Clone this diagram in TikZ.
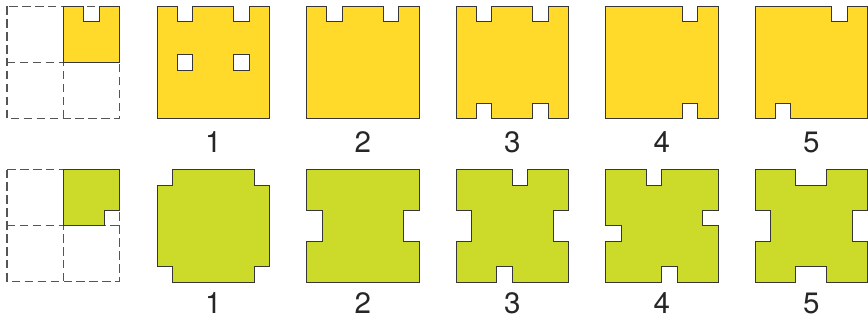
\documentclass[tikz,border=0pt]{standalone}
\usepackage{fontspec}
\setsansfont{TeX Gyre Heros}
\usepackage{tikz}
\usepackage[dvipsnames, svgnames, table]{xcolor}

\definecolor{piecegold}{RGB}{255,218,42}
\definecolor{piecelime}{RGB}{204,219,42}
\definecolor{edgegray}{RGB}{55,55,55}

\tikzset{
  goldpiece/.style={draw=edgegray, fill=piecegold, line width=0.7pt, line join=miter},
  limepiece/.style={draw=edgegray, fill=piecelime, line width=0.7pt, line join=miter},
  gridline/.style={draw=edgegray!85, dash pattern=on 6pt off 3.2pt, line width=0.8pt},
  numlabel/.style={font=\sffamily\fontsize{21}{21}\selectfont, text=black!85}
}

\begin{document}
\begin{tikzpicture}[x=0.25mm, y=-0.25mm]
    \useasboundingbox (0,0) rectangle (868,321);

    % Top row: quarter in the dashed grid
    \draw[gridline] (7,6.3) rectangle (119.6,118.9);
    \draw[gridline] (63.3,6.3) -- (63.3,118.9);
    \draw[gridline] (7,62.6) -- (119.6,62.6);
    \draw[goldpiece] (63.3,6.3) -- (83.65,6.3) -- (83.65,21.9) -- (99.25,21.9) -- (99.25,6.3) -- (119.6,6.3) -- (119.6,62.6) -- (63.3,62.6) -- cycle;

    % Yellow 1
    \begin{scope}[shift={(157,6.3)}]
        \draw[goldpiece] (0,0) -- (20.35,0) -- (20.35,15.6) -- (35.95,15.6) -- (35.95,0) -- (76.65,0) -- (76.65,15.6) -- (92.25,15.6) -- (92.25,0) -- (112.6,0) -- (112.6,112.6) -- (0,112.6) -- cycle;
        \draw[goldpiece, fill=white] (20.35,48.5) rectangle (35.95,64.1);
        \draw[goldpiece, fill=white] (76.65,48.5) rectangle (92.25,64.1);
    \end{scope}

    % Yellow 2
    \begin{scope}[shift={(306.5,6.3)}]
        \draw[goldpiece] (0,0) -- (20.35,0) -- (20.35,15.6) -- (35.95,15.6) -- (35.95,0) -- (76.65,0) -- (76.65,15.6) -- (92.25,15.6) -- (92.25,0) -- (112.6,0) -- (112.6,112.6) -- (0,112.6) -- cycle;
    \end{scope}

    % Yellow 3
    \begin{scope}[shift={(456,6.3)}]
        \draw[goldpiece] (0,0) -- (20.35,0) -- (20.35,15.6) -- (35.95,15.6) -- (35.95,0) -- (76.65,0) -- (76.65,15.6) -- (92.25,15.6) -- (92.25,0) -- (112.6,0) -- (112.6,112.6) -- (92.25,112.6) -- (92.25,97) -- (76.65,97) -- (76.65,112.6) -- (35.95,112.6) -- (35.95,97) -- (20.35,97) -- (20.35,112.6) -- (0,112.6) -- cycle;
    \end{scope}

    % Yellow 4
    \begin{scope}[shift={(605.5,6.3)}]
        \draw[goldpiece] (0,0) -- (76.65,0) -- (76.65,15.6) -- (92.25,15.6) -- (92.25,0) -- (112.6,0) -- (112.6,112.6) -- (92.25,112.6) -- (92.25,97) -- (76.65,97) -- (76.65,112.6) -- (0,112.6) -- cycle;
    \end{scope}

    % Yellow 5
    \begin{scope}[shift={(755,6.3)}]
        \draw[goldpiece] (0,0) -- (76.65,0) -- (76.65,15.6) -- (92.25,15.6) -- (92.25,0) -- (112.6,0) -- (112.6,112.6) -- (35.95,112.6) -- (35.95,97) -- (20.35,97) -- (20.35,112.6) -- (0,112.6) -- cycle;
    \end{scope}

    % Top labels
    \node[numlabel] (top1) at (213.3,142.5) {1};
    \node[numlabel] (top2) at (362.8,142.5) {2};
    \node[numlabel] (top3) at (512.3,142.5) {3};
    \node[numlabel] (top4) at (661.8,142.5) {4};
    \node[numlabel] (top5) at (811.3,142.5) {5};

    % Bottom row: quarter in the dashed grid
    \draw[gridline] (7,169.5) rectangle (119.6,281.1);
    \draw[gridline] (63.3,169.5) -- (63.3,281.1);
    \draw[gridline] (7,225.8) -- (119.6,225.8);
    \draw[limepiece] (63.3,169.5) -- (119.6,169.5) -- (119.6,210.2) -- (104,210.2) -- (104,225.8) -- (63.3,225.8) -- cycle;

    % Green 1
    \begin{scope}[shift={(157,169.6)}]
        \draw[limepiece] (15.6,0) -- (97,0) -- (97,15.6) -- (112.6,15.6) -- (112.6,97) -- (97,97) -- (97,112.6) -- (15.6,112.6) -- (15.6,97) -- (0,97) -- (0,15.6) -- (15.6,15.6) -- cycle;
    \end{scope}

    % Green 2
    \begin{scope}[shift={(306.5,169.6)}]
        \draw[limepiece] (0,0) -- (112.6,0) -- (112.6,40.7) -- (97,40.7) -- (97,71.9) -- (112.6,71.9) -- (112.6,112.6) -- (0,112.6) -- (0,71.9) -- (15.6,71.9) -- (15.6,40.7) -- (0,40.7) -- cycle;
    \end{scope}

    % Green 3
    \begin{scope}[shift={(456,169.6)}]
        \draw[limepiece] (0,0) -- (56.3,0) -- (56.3,15.6) -- (71.9,15.6) -- (71.9,0) -- (112.6,0) -- (112.6,40.7) -- (97,40.7) -- (97,71.9) -- (112.6,71.9) -- (112.6,112.6) -- (56.3,112.6) -- (56.3,97) -- (40.7,97) -- (40.7,112.6) -- (0,112.6) -- (0,71.9) -- (15.6,71.9) -- (15.6,40.7) -- (0,40.7) -- cycle;
    \end{scope}

    % Green 4
    \begin{scope}[shift={(605.5,169.6)}]
        \draw[limepiece] (0,0) -- (40.7,0) -- (40.7,15.6) -- (56.3,15.6) -- (56.3,0) -- (112.6,0) -- (112.6,40.7) -- (97,40.7) -- (97,56.3) -- (112.6,56.3) -- (112.6,112.6) -- (71.9,112.6) -- (71.9,97) -- (56.3,97) -- (56.3,112.6) -- (0,112.6) -- (0,71.9) -- (15.6,71.9) -- (15.6,56.3) -- (0,56.3) -- cycle;
    \end{scope}

    % Green 5
    \begin{scope}[shift={(755,169.6)}]
        \draw[limepiece] (0,0) -- (40.7,0) -- (40.7,15.6) -- (71.9,15.6) -- (71.9,0) -- (112.6,0) -- (112.6,40.7) -- (97,40.7) -- (97,71.9) -- (112.6,71.9) -- (112.6,112.6) -- (71.9,112.6) -- (71.9,97) -- (40.7,97) -- (40.7,112.6) -- (0,112.6) -- (0,71.9) -- (15.6,71.9) -- (15.6,40.7) -- (0,40.7) -- cycle;
    \end{scope}

    % Bottom labels
    \node[numlabel] (bot1) at (213.3,303.5) {1};
    \node[numlabel] (bot2) at (362.8,303.5) {2};
    \node[numlabel] (bot3) at (512.3,303.5) {3};
    \node[numlabel] (bot4) at (661.8,303.5) {4};
    \node[numlabel] (bot5) at (811.3,303.5) {5};
\end{tikzpicture}
\end{document}
